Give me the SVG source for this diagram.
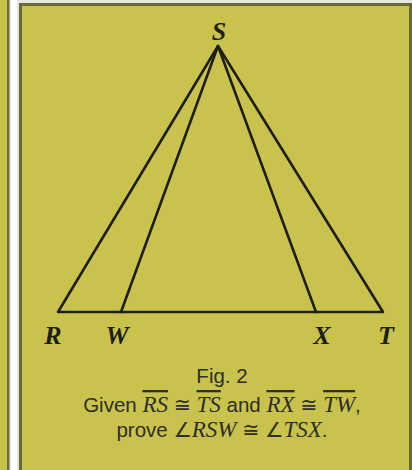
<svg xmlns="http://www.w3.org/2000/svg" width="412" height="470" viewBox="0 0 412 470">
<style>
.edge{stroke:#1e1e1a;stroke-width:2.6;stroke-linecap:round;stroke-linejoin:round;fill:none}
.lbl{font-family:"Liberation Serif","DejaVu Serif",serif;font-weight:bold;font-style:italic;font-size:26px;fill:#1e1e1a;text-anchor:middle}
.cap{font-family:"Liberation Sans","DejaVu Sans",sans-serif;font-size:20.5px;fill:#2e2e28;text-anchor:middle}
.it{font-family:"Liberation Serif","DejaVu Serif",serif;font-style:italic;font-size:23px}
.ol{text-decoration:overline}
</style>
<rect x="0" y="0" width="412" height="470" fill="#e6e6e2"/>
<rect x="0" y="0" width="9" height="470" fill="#c7c24c"/>
<rect x="7" y="0" width="2.5" height="470" fill="#6f6c3c"/>
<rect x="11" y="0" width="6" height="470" fill="#ffffff"/>
<rect x="19" y="3" width="393" height="467" fill="#6a6838"/>
<rect x="22" y="6" width="387" height="464" fill="#c9c34d"/>
<g id="connectors">
<polyline class="edge" points="58,312 218,46 383,312 58,312"/>
<line class="edge" x1="218" y1="46" x2="121" y2="312"/>
<line class="edge" x1="218" y1="46" x2="316" y2="312"/>
</g>
<g id="S"><text class="lbl" x="219" y="40">S</text></g>
<g id="R"><text class="lbl" x="53" y="344">R</text></g>
<g id="W"><text class="lbl" x="117" y="344">W</text></g>
<g id="X"><text class="lbl" x="322" y="344">X</text></g>
<g id="T"><text class="lbl" x="386" y="344">T</text></g>
<g id="caption">
<text class="cap" x="222" y="383">Fig. 2</text>
<text class="cap" x="222" y="412">Given <tspan class="it ol">RS</tspan> ≅ <tspan class="it ol">TS</tspan> and <tspan class="it ol">RX</tspan> ≅ <tspan class="it ol">TW</tspan>,</text>
<text class="cap" x="222" y="437">prove ∠<tspan class="it">RSW</tspan> ≅ ∠<tspan class="it">TSX</tspan>.</text>
</g>
</svg>
